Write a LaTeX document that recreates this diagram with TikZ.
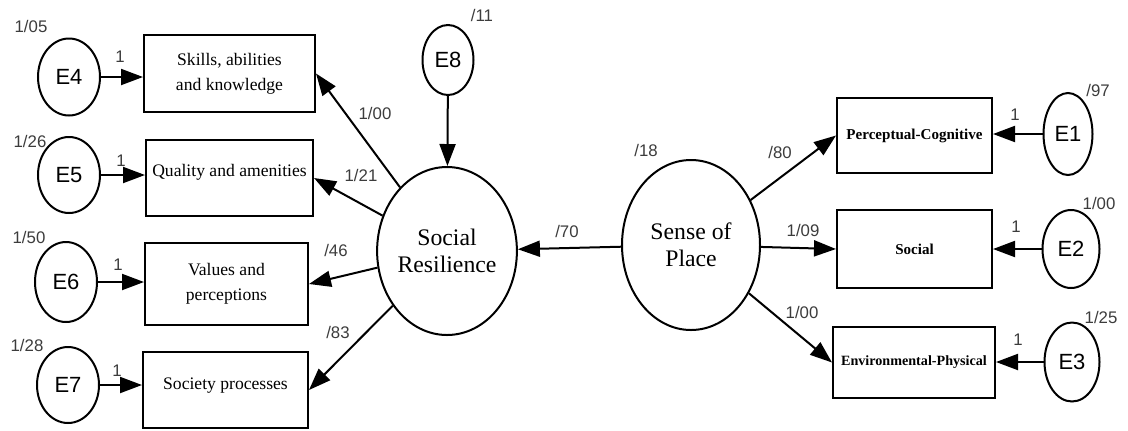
\documentclass[tikz,border=0pt]{standalone}
\usepackage{fontspec}
\setmainfont{Liberation Serif}
\newfontfamily\arialf{Liberation Sans}
\usetikzlibrary{arrows.meta,shapes.geometric}
\definecolor{numgray}{RGB}{60,60,60}
\begin{document}
\begin{tikzpicture}[x=0.75pt,y=-0.75pt,
  errnode/.style={ellipse, draw, line width=1.5pt, inner sep=0pt, font=\arialf\fontsize{16.5}{16.5}\selectfont},
  box/.style={rectangle, draw, line width=1.5pt, inner sep=0pt, align=center, font=\fontsize{13.2}{19}\selectfont},
  rbox/.style={rectangle, draw, line width=1.5pt, inner sep=0pt, align=center, font=\bfseries\fontsize{11.3}{13}\selectfont},
  latent/.style={ellipse, draw, line width=1.5pt, inner sep=0pt, align=center, font=\fontsize{17.8}{20}\selectfont},
  num/.style={font=\arialf\fontsize{12.6}{13}\selectfont, text=numgray, inner sep=0pt},
  arr/.style={line width=1.5pt, -{Triangle[length=16.5pt,width=12pt]}}]
\useasboundingbox (0,0) rectangle (1128,430);
% left error terms
\node[errnode, minimum width=46.5pt, minimum height=57.75pt] (E4) at (69,77) {E4};
\node[errnode, minimum width=46.5pt, minimum height=57pt] (E5) at (69,175) {E5};
\node[errnode, minimum width=46.5pt, minimum height=60pt] (E6) at (66,282) {E6};
\node[errnode, minimum width=46.5pt, minimum height=57pt] (E7) at (68,385) {E7};
% left boxes
\node[box, minimum width=128.25pt, minimum height=57.75pt] (B1) at (229.5,73.5) {Skills, abilities\\and knowledge};
\node[box, minimum width=125.25pt, minimum height=57pt] (B2) at (229.5,178) {\raisebox{4pt}[\height][\depth]{Quality and amenities}};
\node[box, minimum width=122.25pt, minimum height=61.5pt] (B3) at (226.5,284) {Values and\\perceptions};
\node[box, minimum width=123.75pt, minimum height=57pt] (B4) at (225.5,390) {\raisebox{3.5pt}[\height][\depth]{Society processes}};
% latent variables
\node[latent, minimum width=97.5pt, minimum height=126pt] (SR) at (447,251) {Social\\Resilience};
\node[errnode, minimum width=38.25pt, minimum height=52.5pt] (E8) at (448,60) {E8};
\node[latent, minimum width=103.5pt, minimum height=127.5pt] (SP) at (691,245) {Sense of\\Place};
% right boxes
\node[rbox, minimum width=116.25pt, minimum height=56.25pt] (PC) at (914.5,135.5) {Perceptual-Cognitive};
\node[rbox, minimum width=116.25pt, minimum height=58.5pt] (SO) at (914.5,249) {Social};
\node[rbox, minimum width=121.5pt, minimum height=53.25pt, font=\bfseries\fontsize{10.6}{12}\selectfont] (EP) at (914,362.5) {Environmental-Physical};
% right error terms
\node[errnode, minimum width=36.75pt, minimum height=61.5pt] (E1) at (1068,134) {E1};
\node[errnode, minimum width=42.75pt, minimum height=58.5pt] (E2) at (1071,249) {E2};
\node[errnode, minimum width=41.25pt, minimum height=59.25pt] (E3) at (1072,362) {E3};
% connectors
\draw[arr] (E4) -- (E4 -| B1.west);
\draw[arr] (E5) -- (E5 -| B2.west);
\draw[arr] (E6) -- (E6 -| B3.west);
\draw[arr] (E7) -- (E7 -| B4.west);
\draw[arr] (SR) -- (B1.east);
\draw[arr] (SR) -- (B2.east);
\draw[arr] (SR) -- (B3.east);
\draw[arr] (SR) -- (B4.east);
\draw[arr] (E8) -- (SR);
\draw[arr] (SP) -- (SR);
\draw[arr] (SP) -- (PC.west);
\draw[arr] (SP) -- (SO.west);
\draw[arr] (SP) -- (EP.west);
\draw[arr] (E1) -- (E1 -| PC.east);
\draw[arr] (E2) -- (E2 -| SO.east);
\draw[arr] (E3) -- (E3 -| EP.east);
% labels
\node[num] (l1) at (31,26) {1/05};
\node[num] (l2) at (30,141) {1/26};
\node[num] (l3) at (29,237) {1/50};
\node[num] (l4) at (27,345) {1/28};
\node[num] (o1) at (120,57) {1};
\node[num] (o2) at (121,161) {1};
\node[num] (o3) at (118,265) {1};
\node[num] (o4) at (117,371) {1};
\node[num] (l5) at (482,15) {/11};
\node[num] (l6) at (375,113) {1/00};
\node[num] (l7) at (361,175) {1/21};
\node[num] (l8) at (336,250) {/46};
\node[num] (l9) at (338,332) {/83};
\node[num] (l10) at (567,231) {/70};
\node[num] (l11) at (646,150) {/18};
\node[num] (l12) at (780,152) {/80};
\node[num] (l13) at (803,230) {1/09};
\node[num] (l14) at (802,312) {1/00};
\node[num] (l15) at (1098,90) {/97};
\node[num] (l16) at (1099,203) {1/00};
\node[num] (l17) at (1101,317) {1/25};
\node[num] (o5) at (1015,115) {1};
\node[num] (o6) at (1016,227) {1};
\node[num] (o7) at (1018,340) {1};
\end{tikzpicture}
\end{document}
